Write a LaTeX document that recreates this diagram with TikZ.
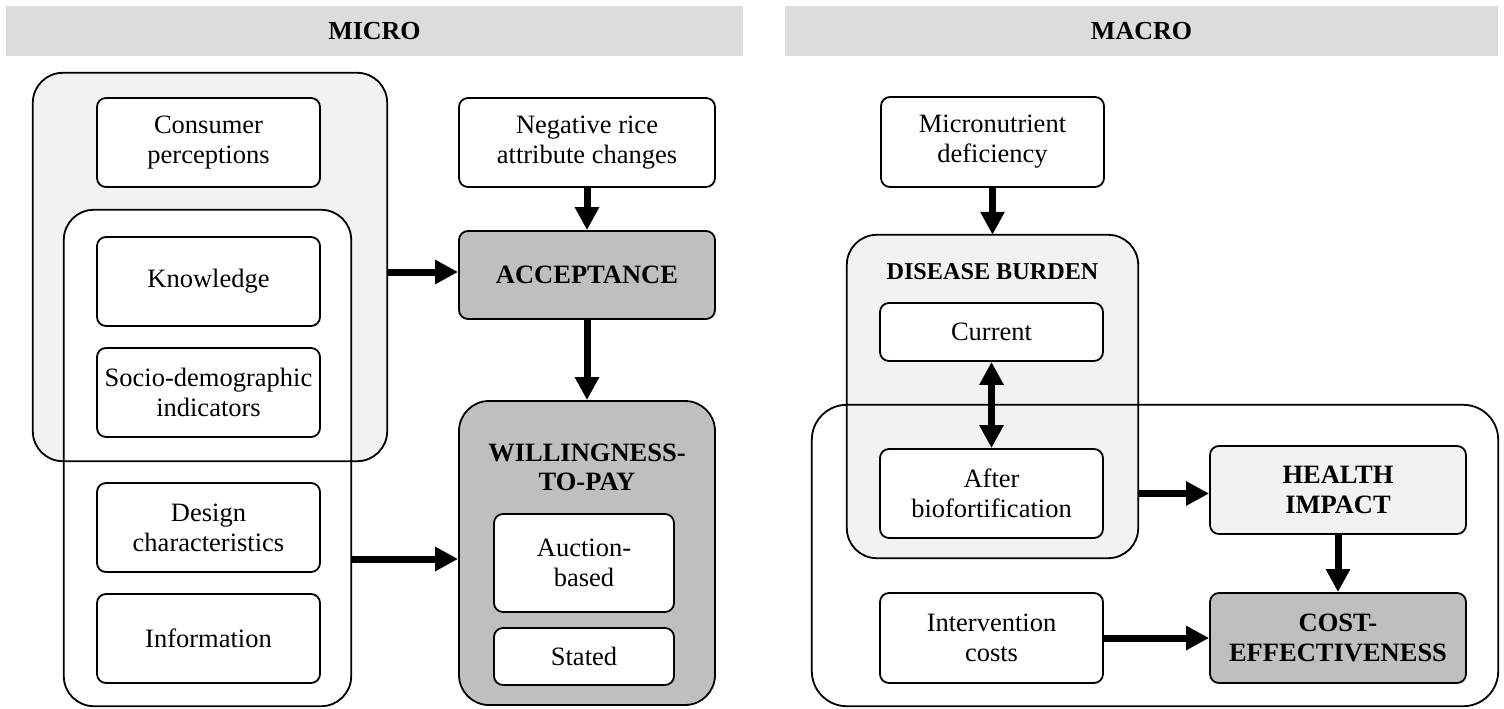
\documentclass[tikz,border=0pt]{standalone}
\usepackage{fontspec}
\setmainfont{Liberation Serif}
\usetikzlibrary{arrows.meta}

\definecolor{hdrgray}{HTML}{DCDCDC}
\definecolor{lightgray}{HTML}{F2F2F2}
\definecolor{darkgray}{HTML}{BFBFBF}

\begin{document}
\begin{tikzpicture}[x=1pt,y=-1pt,
  every node/.style={font=\fontsize{26.5}{30}\selectfont, align=center, inner sep=0pt},
  header/.style={fill=hdrgray, minimum height=50pt, font=\fontsize{26}{30}\selectfont\bfseries},
  box/.style={draw, line width=1.8pt, rounded corners=9pt, fill=white},
  keybox/.style={box, fill=darkgray, font=\fontsize{26.5}{30}\selectfont\bfseries},
  groupfill/.style={rounded corners=30pt},
  groupline/.style={draw, line width=1.8pt, rounded corners=30pt},
  flow/.style={line width=7pt, -{Triangle[length=23pt,width=23pt]}},
  twoway/.style={line width=7pt, {Triangle[length=23pt,width=23pt]}-{Triangle[length=23pt,width=23pt]}}
]
\useasboundingbox (0,0) rectangle (1504,709);

% section headers
\node[header, minimum width=737pt] (microbar) at (374.5,31) {MICRO};
\node[header, minimum width=713pt] (macrobar) at (1141.5,31) {MACRO};

% ---------- MICRO ----------
% grouping frames (fills first, outlines on top)
\node[groupfill, fill=lightgray, minimum width=354pt, minimum height=388pt] (grpPerc) at (210,267) {};
\node[groupfill, fill=white, minimum width=287pt, minimum height=496pt] (grpKnow) at (207.5,458) {};
\draw[groupline] (grpPerc.north west) rectangle (grpPerc.south east);
\draw[groupline] (grpKnow.north west) rectangle (grpKnow.south east);

\node[box, minimum width=223pt, minimum height=89pt] (cp) at (208.5,142.5) {Consumer\\perceptions};
\node[box, minimum width=223pt, minimum height=89pt] (kn) at (208.5,281.5) {Knowledge};
\node[box, minimum width=223pt, minimum height=89pt] (sd) at (208.5,392.5) {Socio-demographic\\indicators};
\node[box, minimum width=223pt, minimum height=89pt] (dc) at (208.5,527.5) {Design\\characteristics};
\node[box, minimum width=223pt, minimum height=89pt] (inf) at (208.5,638.5) {Information};

\node[box, minimum width=256pt, minimum height=89pt] (neg) at (587,142.5) {Negative rice\\attribute changes};
\node[keybox, minimum width=256pt, minimum height=88pt] (acc) at (587,275) {ACCEPTANCE};
\node[box, fill=darkgray, rounded corners=30pt, minimum width=256pt, minimum height=304pt] (wtp) at (587,553) {};
\node[font=\fontsize{26.5}{29}\selectfont\bfseries] (wtptitle) at (587,467) {WILLINGNESS-\\TO-PAY};
\node[box, minimum width=180pt, minimum height=98pt] (auc) at (584,563) {Auction-\\based};
\node[box, minimum width=180pt, minimum height=57pt] (st) at (584,656.5) {Stated};

\coordinate (accIn) at ([yshift=3pt]acc.west);
\coordinate (wtpIn) at ([yshift=-6pt]wtp.west);
\draw[flow] (neg.south) -- (acc.north);
\draw[flow] (acc.south) -- (wtp.north);
\draw[flow] (grpPerc.east |- accIn) -- (accIn);
\draw[flow] (grpKnow.east |- wtpIn) -- (wtpIn);

% ---------- MACRO ----------
\node[groupfill, rounded corners=35pt, fill=white, minimum width=686pt, minimum height=301pt] (grpMac) at (1155,555.5) {};
\node[groupfill, fill=lightgray, minimum width=291pt, minimum height=323pt] (grpDis) at (992.5,396.5) {};
\draw[groupline] (grpDis.north west) rectangle (grpDis.south east);
\draw[groupline, rounded corners=35pt] (grpMac.north west) rectangle (grpMac.south east);

\node[box, minimum width=223pt, minimum height=90pt] (mnd) at (992.5,142) {Micronutrient\\deficiency};
\node[font=\fontsize{24.2}{29}\selectfont\bfseries] (distitle) at (992.5,272) {DISEASE BURDEN};
\node[box, minimum width=223pt, minimum height=58pt] (cur) at (991.5,332) {Current};
\node[box, minimum width=223pt, minimum height=89pt] (aft) at (991.5,493.5) {After\\biofortification};
\node[box, minimum width=223pt, minimum height=90pt] (ic) at (991.5,638) {Intervention\\costs};
\node[box, fill=lightgray, font=\fontsize{26.5}{30}\selectfont\bfseries, minimum width=256pt, minimum height=88pt] (hi) at (1338,490) {HEALTH\\IMPACT};
\node[keybox, minimum width=256pt, minimum height=90pt] (ce) at (1338,638) {COST-\\EFFECTIVENESS};

\draw[flow] (mnd.south) -- (grpDis.north);
\draw[twoway] (cur.south) -- (aft.north);
\draw[flow] (grpDis.east |- aft) -- (hi.west |- aft);
\draw[flow] (ic.east) -- (ce.west |- ic.east);
\draw[flow] (hi.south) -- (ce.north);
\end{tikzpicture}
\end{document}
